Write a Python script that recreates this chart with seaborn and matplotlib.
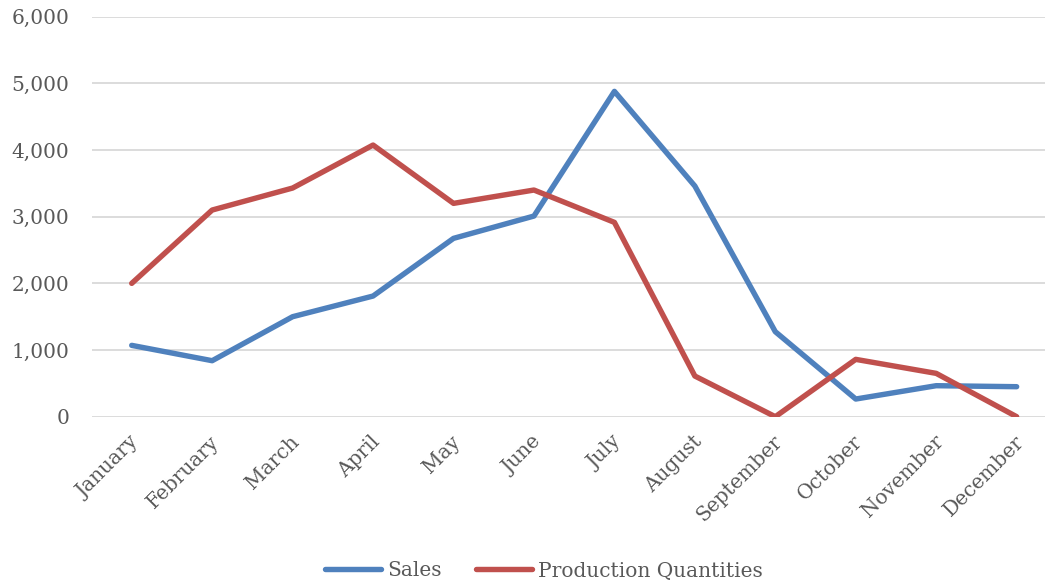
import matplotlib
matplotlib.use("Agg")
import matplotlib.pyplot as plt
import matplotlib.transforms as mtransforms
import seaborn as sns
import pandas as pd

months = ["January", "February", "March", "April", "May", "June",
          "July", "August", "September", "October", "November", "December"]
sales = [1070, 840, 1500, 1810, 2675, 3010, 4880, 3460, 1275, 265, 465, 450]
production = [2000, 3100, 3430, 4075, 3200, 3400, 2915, 610, 0, 860, 650, 0]
series_names = ["Sales", "Production Quantities"]
y_ticks = [0, 1000, 2000, 3000, 4000, 5000, 6000]

df = pd.DataFrame({
    "month": months * 2,
    "value": sales + production,
    "series": [series_names[0]] * len(months) + [series_names[1]] * len(months),
})

sns.set_theme(style="white")
plt.rcParams["font.family"] = ["DejaVu Serif"]
text_color = "#595959"
font_size = 14.5

fig = plt.figure(figsize=(10.45, 5.86), dpi=100)
ax = fig.add_axes([91.5 / 1045, 1 - 416.7 / 586, (1045 - 91.5) / 1045, 400 / 586])

sns.lineplot(data=df, x="month", y="value", hue="series", sort=False,
             palette=["#4F81BD", "#C0504D"], linewidth=3.9, ax=ax,
             solid_capstyle="round", solid_joinstyle="round")

ax.set_ylim(0, 6000)
ax.set_xlim(-0.5, (1045 - 131.7) / 80.45)
ax.set_yticks(y_ticks)
ax.set_yticklabels([f"{v:,}" for v in y_ticks])
ax.yaxis.grid(True, color="#D9D9D9", linewidth=1.3)
ax.xaxis.grid(False)
for s in ax.spines.values():
    s.set_visible(False)
ax.set_xlabel("")
ax.set_ylabel("")
ax.tick_params(axis="y", length=0, pad=16, labelsize=font_size, labelcolor=text_color)
ax.tick_params(axis="x", length=0, pad=16, labelsize=font_size, labelcolor=text_color)
shift = mtransforms.ScaledTranslation(4 / 100, 0, fig.dpi_scale_trans)
for lbl in ax.get_xticklabels():
    lbl.set_rotation(45)
    lbl.set_ha("right")
    lbl.set_va("center")
    lbl.set_rotation_mode("anchor")
    lbl.set_transform(lbl.get_transform() + shift)

handles, labels = ax.get_legend_handles_labels()
ax.get_legend().remove()
leg = fig.legend(handles, labels, loc="center", bbox_to_anchor=(544 / 1045, 1 - 571 / 586),
                 ncol=2, frameon=False, fontsize=font_size, handlelength=2.8,
                 handletextpad=0.3, columnspacing=1.7, labelcolor=text_color)
for line in leg.get_lines():
    line.set_linewidth(3.9)
    line.set_solid_capstyle("round")

fig.savefig("out.png", dpi=100)
